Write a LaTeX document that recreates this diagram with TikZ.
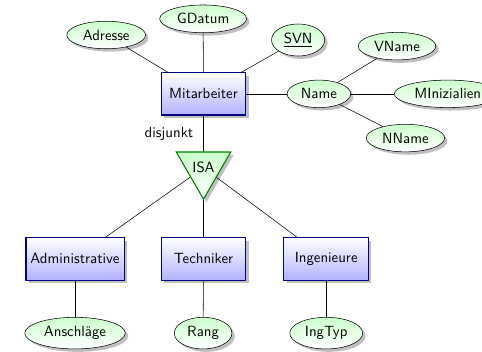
\documentclass[tikz,border=0pt]{standalone}
\usepackage{tikz}
\usetikzlibrary{shapes,shadows,positioning}
\tikzset{
 lbl/.style={font=\sffamily\fontsize{10.95}{13.6}\selectfont},
 entity/.style={lbl,rectangle,draw=blue!50!black,thick,top color=white,bottom color=blue!30,drop shadow,minimum width=2.2cm,minimum height=1.1cm},
 attribute/.style={lbl,ellipse,draw,top color=green!20,bottom color=white,drop shadow},
 isa/.style={lbl,regular polygon,regular polygon sides=3,shape border rotate=180,draw=green!50!black,thick,top color=green!20,bottom color=white,drop shadow,minimum size=1.59cm,inner sep=0pt}
}
\begin{document}
\begin{tikzpicture}
\clip(0,0)rectangle(12.53,-9.13);
%entities
\node[entity](mitarbeiter)at(5.29,-2.44){Mitarbeiter};
\node[entity](admin)at(1.95,-6.73){Administrative};
\node[entity](techniker)at(5.29,-6.73){Techniker};
\node[entity](ingenieure)at(8.48,-6.73){Ingenieure};
%isa
\node[isa](isa)at(5.29,-4.36){ISA};
\node[lbl,anchor=east](disj)at(5.15,-3.48){disjunkt};
%attributes
\node[attribute](adresse)at(2.76,-0.91){Adresse};
\node[attribute](gdatum)at(5.28,-0.49){GDatum};
\node[attribute](svn)at(7.75,-1.04){\underline{SVN}};
\node[attribute](name)at(8.29,-2.44){Name};
\node[attribute](vname)at(10.32,-1.2){VName};
\node[attribute](minit)at(11.64,-2.44){MInizialien};
\node[attribute](nname)at(10.54,-3.59){NName};
\node[attribute](anschl)at(1.95,-8.66){Anschläge};
\node[attribute](rang)at(5.28,-8.66){Rang};
\node[attribute](ingtyp)at(8.48,-8.66){IngTyp};
%links
\draw(mitarbeiter)--(adresse);
\draw(mitarbeiter)--(gdatum);
\draw(mitarbeiter)--(svn);
\draw(mitarbeiter)--(name);
\draw(name)--(vname);
\draw(name)--(minit);
\draw(name)--(nname);
\draw(mitarbeiter)--(isa);
\draw(isa)--(admin);
\draw(isa)--(techniker);
\draw(isa)--(ingenieure);
\draw(admin)--(anschl);
\draw(techniker)--(rang);
\draw(ingenieure)--(ingtyp);
\end{tikzpicture}
\end{document}
